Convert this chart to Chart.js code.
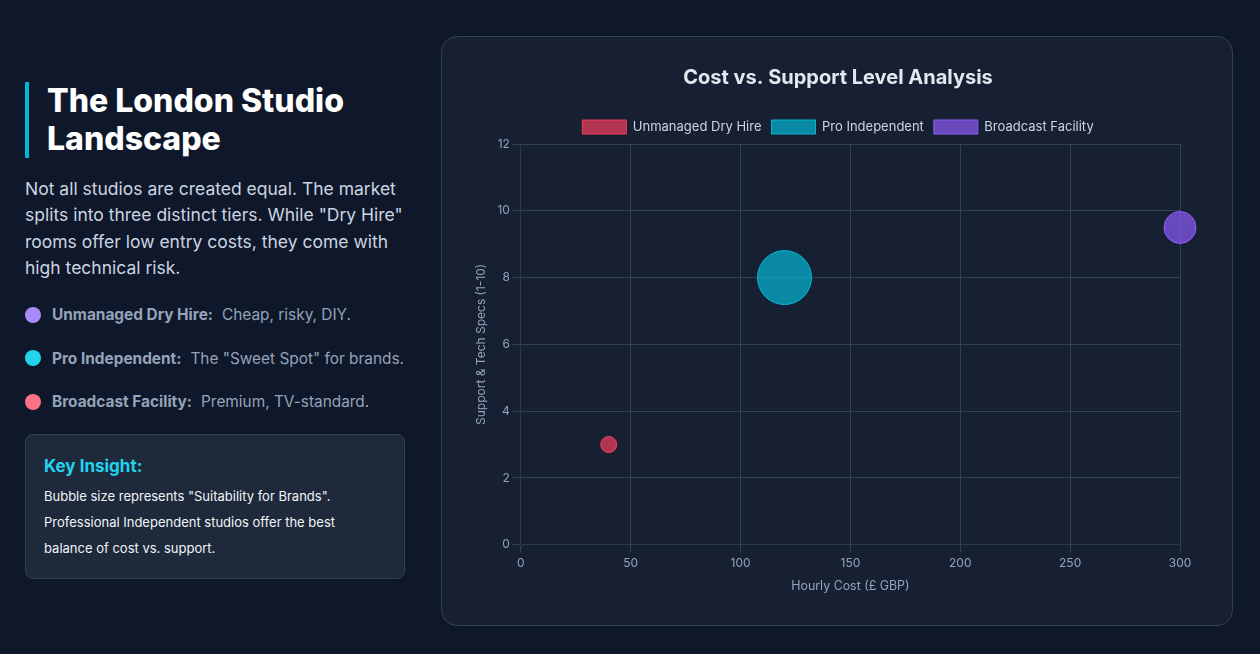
<!DOCTYPE html>
<html>
<head>
<meta charset="utf-8">
<title>The London Studio Landscape</title>
<script src="https://cdn.jsdelivr.net/npm/chart.js@4.4.0/dist/chart.umd.min.js"></script>
<style>
  html, body { margin: 0; padding: 0; }
  body {
    width: 1260px; height: 654px; overflow: hidden;
    background: #0f172a; font-family: Inter, "Noto Sans", sans-serif;
  }
  .left { position: absolute; left: 25px; top: 82px; width: 384px; }
  .left h2 {
    margin: 0; padding-left: 18px; border-left: 4px solid #06b6d4;
    color: #fff; font-size: 32px; font-weight: 800; line-height: 38px;
  }
  .left p.intro {
    margin: 18px 0 0; color: #cbd5e1; font-size: 17.5px; line-height: 26.4px;
  }
  .tiers { margin-top: 23px; }
  .tier { display: flex; align-items: center; height: 20px; margin-bottom: 23.5px; font-size: 15.4px; color: #94a3b8; }
  .tier .dot { width: 16px; height: 16px; border-radius: 50%; margin-right: 11px; flex: none; }
  .tier b { margin-right: 9px; }
  .insight {
    position: absolute; left: 25px; top: 434px; width: 380px; height: 145px;
    background: #1e293b; border: 1px solid #334155; border-radius: 8px;
    box-sizing: border-box; padding: 20px 18px;
  }
  .insight h3 { margin: 0; color: #22d3ee; font-size: 17px; font-weight: 700; line-height: 22px; }
  .insight p { margin: 6px 0 0; color: #f1f5f9; font-size: 13px; line-height: 26px; }
  .card {
    position: absolute; left: 441px; top: 36px; width: 792px; height: 590px;
    box-sizing: border-box; background: #162032; border: 1px solid #334155; border-radius: 16px;
    padding: 25px 24px 25px 26px;
  }
  .card .wrap { position: relative; width: 100%; height: 100%; }
</style>
</head>
<body>
<div class="left">
  <h2>The London Studio Landscape</h2>
  <p class="intro">Not all studios are created equal. The market splits into three distinct tiers. While "Dry Hire" rooms offer low entry costs, they come with high technical risk.</p>
  <div class="tiers">
    <div class="tier"><span class="dot" style="background:#a78bfa"></span><b>Unmanaged Dry Hire:</b> Cheap, risky, DIY.</div>
    <div class="tier"><span class="dot" style="background:#22d3ee"></span><b>Pro Independent:</b> The "Sweet Spot" for brands.</div>
    <div class="tier"><span class="dot" style="background:#fb7185"></span><b>Broadcast Facility:</b> Premium, TV-standard.</div>
  </div>
</div>
<div class="insight">
  <h3>Key Insight:</h3>
  <p>Bubble size represents "Suitability for Brands". Professional Independent studios offer the best balance of cost vs. support.</p>
</div>
<div class="card"><div class="wrap"><canvas id="bubbleChart"></canvas></div></div>

<script>
// Studio tiers
const tiers = ["Unmanaged Dry Hire", "Pro Independent", "Broadcast Facility"];
const hourlyCost = [40, 120, 300];     // x: £ GBP per hour
const supportLevel = [3, 8, 9.5];      // y: support & tech specs (1-10)
const brandSuitability = [8, 27, 16];  // bubble radius
const fillColors = ["rgba(244, 63, 94, 0.7)", "rgba(6, 182, 212, 0.7)", "rgba(139, 92, 246, 0.7)"];
const lineColors = ["#f43f5e", "#06b6d4", "#8b5cf6"];

Chart.defaults.font.family = "Inter, 'Noto Sans', sans-serif";
Chart.defaults.color = "#94a3b8";

const ctx = document.getElementById("bubbleChart").getContext("2d");
new Chart(ctx, {
  type: "bubble",
  data: {
    datasets: tiers.map((name, i) => ({
      label: name,
      data: [{ x: hourlyCost[i], y: supportLevel[i], r: brandSuitability[i] }],
      backgroundColor: fillColors[i],
      borderColor: lineColors[i],
      borderWidth: 1,
      clip: false
    }))
  },
  options: {
    responsive: true,
    maintainAspectRatio: false,
    animation: false,
    plugins: {
      title: {
        display: true,
        text: "Cost vs. Support Level Analysis",
        color: "#e2e8f0",
        font: { size: 20, weight: "bold" },
        padding: { top: 4, bottom: 20 }
      },
      legend: {
        labels: { color: "#cbd5e1", font: { size: 13 }, boxWidth: 44, boxHeight: 14 }
      }
    },
    scales: {
      x: {
        min: 0,
        max: 300,
        ticks: { stepSize: 50, color: "#94a3b8", font: { size: 12 } },
        grid: { color: "#334155" },
        title: { display: true, text: "Hourly Cost (£ GBP)", color: "#94a3b8", font: { size: 12.4 }, padding: 6 }
      },
      y: {
        min: 0,
        max: 12,
        ticks: { stepSize: 2, color: "#94a3b8", font: { size: 12 } },
        grid: { color: "#334155" },
        title: { display: true, text: "Support & Tech Specs (1-10)", color: "#94a3b8", font: { size: 12 }, padding: 6 }
      }
    }
  }
});
</script>
</body>
</html>
